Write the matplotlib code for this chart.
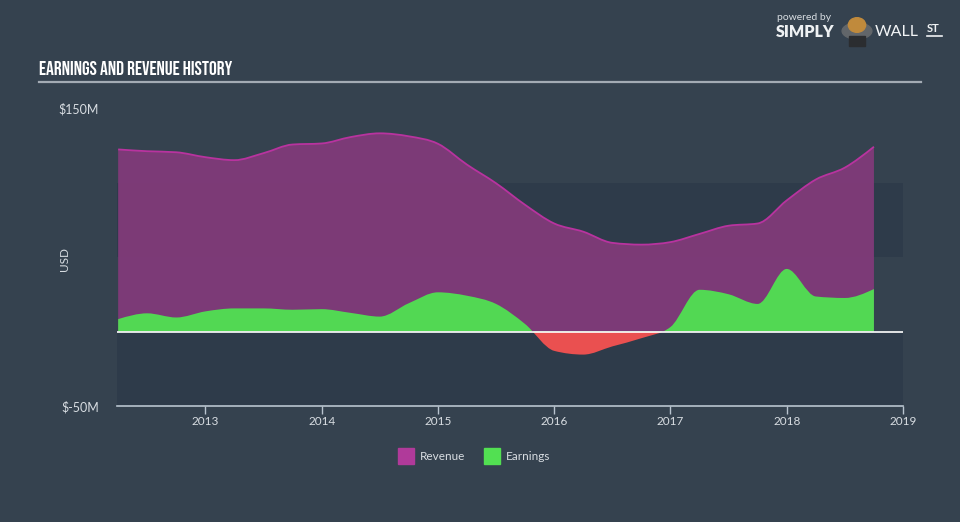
import matplotlib
matplotlib.use("Agg")
import matplotlib.pyplot as plt
import numpy as np
from matplotlib.path import Path
from matplotlib.patches import PathPatch, Rectangle, Circle, Ellipse

# Quarter-end dates and values (USD millions)
dates = [2012.25, 2012.5, 2012.75, 2013.0, 2013.25, 2013.5, 2013.75, 2014.0,
         2014.25, 2014.5, 2014.75, 2015.0, 2015.25, 2015.5, 2015.75, 2016.0,
         2016.25, 2016.5, 2016.75, 2017.0, 2017.25, 2017.5, 2017.75, 2018.0,
         2018.25, 2018.5, 2018.75]
revenue = [122.2, 121.0, 120.3, 117.0, 115.0, 119.7, 125.5, 126.2,
           130.5, 133.0, 131.0, 126.0, 112.0, 99.5, 85.0, 72.5,
           67.0, 59.5, 58.3, 60.0, 65.5, 71.0, 72.5, 88.0,
           102.0, 110.0, 124.0]
earnings = [8.3, 12.2, 9.4, 13.5, 15.5, 15.5, 14.6, 15.0,
            12.5, 10.0, 19.0, 26.3, 24.0, 18.5, 5.0, -13.0,
            -15.5, -10.0, -4.5, 3.0, 28.0, 25.0, 18.5, 42.0,
            23.5, 22.5, 28.5]
year_ticks = [2013, 2014, 2015, 2016, 2017, 2018, 2019]

BG = "#35424f"
BAND = "#2e3b4a"
REV_FILL = "#833a7b"
REV_LINE = "#b8339f"
EARN_POS = "#52d853"
EARN_NEG = "#ea5050"
TXT = "#d8dde2"
TITLE_FONT = ["Bebas Neue", "Oswald", "Barlow Condensed", "DejaVu Sans"]
BODY_FONT = ["Lato", "DejaVu Sans"]


def monotone_path(x, y):
    # smooth monotone cubic (like d3 curveMonotoneX) as bezier segments
    x = np.asarray(x, float)
    y = np.asarray(y, float)
    n = len(x)
    h = np.diff(x)
    s = np.diff(y) / h
    t = np.zeros(n)
    for i in range(1, n - 1):
        p = (s[i - 1] * h[i] + s[i] * h[i - 1]) / (h[i - 1] + h[i])
        t[i] = (np.sign(s[i - 1]) + np.sign(s[i])) * min(abs(s[i - 1]), abs(s[i]), 0.5 * abs(p))
    t[0] = (3 * s[0] - t[1]) / 2
    t[-1] = (3 * s[-1] - t[-2]) / 2
    verts = [(x[0], y[0])]
    codes = [Path.MOVETO]
    for i in range(n - 1):
        dx = (x[i + 1] - x[i]) / 3
        verts += [(x[i] + dx, y[i] + dx * t[i]),
                  (x[i + 1] - dx, y[i + 1] - dx * t[i + 1]),
                  (x[i + 1], y[i + 1])]
        codes += [Path.CURVE4] * 3
    return verts, codes


def area_path(x, y):
    verts, codes = monotone_path(x, y)
    verts += [(x[-1], 0), (x[0], 0), (x[0], 0)]
    codes += [Path.LINETO, Path.LINETO, Path.CLOSEPOLY]
    return Path(verts, codes)


fig = plt.figure(figsize=(9.6, 5.22), dpi=100, facecolor=BG)
ax = fig.add_axes([117 / 960, 116 / 522, 786 / 960, 298 / 522])
ax.set_facecolor(BG)

x0, x1 = 2012.24, 2019.0
ax.set_xlim(x0, x1)
ax.set_ylim(-50, 150)

# alternating background bands
ax.axhspan(-50, 0, color=BAND, zorder=0, lw=0)
ax.axhspan(50, 100, color=BAND, zorder=0, lw=0)

# revenue area
ax.add_patch(PathPatch(area_path(dates, revenue), facecolor=REV_FILL, edgecolor="none",
                       alpha=0.92, zorder=2))
rv, rc = monotone_path(dates, revenue)
ax.add_patch(PathPatch(Path(rv, rc), facecolor="none", edgecolor=REV_LINE, lw=1.3, zorder=3))

# earnings area, green above zero and red below
earn_path = area_path(dates, earnings)
pos = PathPatch(earn_path, facecolor=EARN_POS, edgecolor="none", zorder=4)
neg = PathPatch(earn_path, facecolor=EARN_NEG, edgecolor="none", zorder=4)
ax.add_patch(pos)
ax.add_patch(neg)
pos.set_clip_path(Rectangle((x0, 0), x1 - x0, 200, transform=ax.transData))
neg.set_clip_path(Rectangle((x0, -100), x1 - x0, 100, transform=ax.transData))

ax.axhline(0, color="white", lw=1.2, zorder=5)

for s in ["top", "left", "right"]:
    ax.spines[s].set_visible(False)
ax.spines["bottom"].set_color("#b9c4cf")
ax.spines["bottom"].set_linewidth(1.2)

ax.set_xticks(year_ticks)
ax.set_xticklabels([str(v) for v in year_ticks])
ax.tick_params(axis="x", colors="#b9c4cf", length=6, width=1, labelcolor=TXT,
               labelsize=8.5, pad=1)
for lab in ax.get_xticklabels():
    lab.set_family(BODY_FONT)

ax.set_yticks([-50, 150])
ax.set_yticklabels(["$-50M", "$150M"])
ax.tick_params(axis="y", length=0, pad=13, labelcolor=TXT, labelsize=9)
for lab in ax.get_yticklabels():
    lab.set_family(BODY_FONT)
ax.set_ylabel("USD", color=TXT, fontsize=8.5, family=BODY_FONT, rotation=90)
ax.yaxis.set_label_coords(-47 / 786, 147 / 298)

# title and rule
fig.text(39 / 960, 1 - 68 / 522, "EARNINGS AND REVENUE HISTORY", color="white",
         fontsize=14, family=TITLE_FONT, va="center", ha="left")
fig.add_artist(plt.Line2D([39 / 960, 921 / 960], [1 - 81.5 / 522, 1 - 81.5 / 522],
                          color="#a3abb4", lw=1.6))

# legend
fig.add_artist(Rectangle((398 / 960, 1 - 464 / 522), 16 / 960, 16 / 522,
                         transform=fig.transFigure, color="#b03a9a"))
fig.text(420 / 960, 1 - 456 / 522, "Revenue", color=TXT, fontsize=8.5, family=BODY_FONT,
         va="center")
fig.add_artist(Rectangle((484 / 960, 1 - 464 / 522), 16 / 960, 16 / 522,
                         transform=fig.transFigure, color="#52e052"))
fig.text(506 / 960, 1 - 456 / 522, "Earnings", color=TXT, fontsize=8.5, family=BODY_FONT,
         va="center")

# logo
fig.text(777 / 960, 1 - 17 / 522, "powered by", color="#d8dde2", fontsize=7.5,
         family=BODY_FONT, va="center")
fig.text(776 / 960, 1 - 32 / 522, "SIMPLY", color="#eef1f3", fontsize=11.5,
         fontweight="heavy", family=BODY_FONT, va="center")
fig.add_artist(Circle((857 / 960, 1 - 31 / 522), 0.0155, transform=fig.transFigure,
                      color="#62666a"))
fig.add_artist(Rectangle((849 / 960, 1 - 46 / 522), 16 / 960, 10 / 522,
                         transform=fig.transFigure, color="#2b2d30"))
fig.add_artist(Ellipse((857 / 960, 1 - 25 / 522), 0.018, 0.028, transform=fig.transFigure,
                       color="#c08a3c"))
fig.text(875 / 960, 1 - 32 / 522, "WALL", color="#f2f4f6", fontsize=11.5,
         fontweight="normal", family=BODY_FONT, va="center")
fig.text(927 / 960, 1 - 29 / 522, "ST", color="#eef1f3", fontsize=8,
         fontweight="bold", family=BODY_FONT, va="center")
fig.add_artist(plt.Line2D([927 / 960, 942 / 960], [1 - 36 / 522, 1 - 36 / 522],
                          color="#eef1f3", lw=1.2))

plt.savefig("out.png", dpi=100, facecolor=BG)
